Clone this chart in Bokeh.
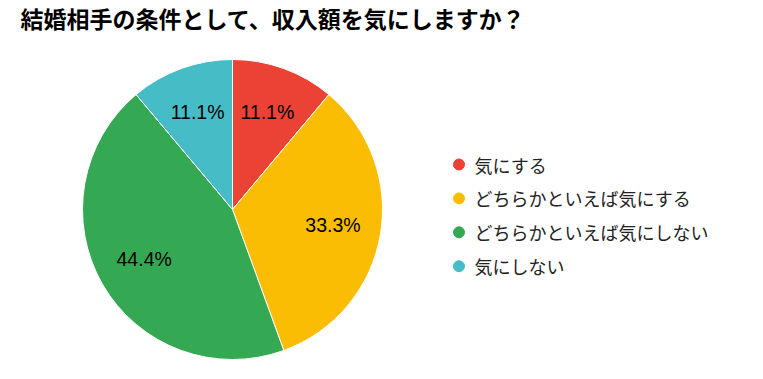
import math
from bokeh.plotting import figure
from bokeh.models import Range1d, ColumnDataSource
from bokeh.core.properties import value
from bokeh.embed import file_html
from bokeh.resources import INLINE

# ---- data ----
title_text = "結婚相手の条件として、収入額を気にしますか？"
categories = ["気にする", "どちらかといえば気にする", "どちらかといえば気にしない", "気にしない"]
shares = [11.1, 33.3, 44.4, 11.1]
colors = ["#EA4335", "#FBBC04", "#34A853", "#46BDC6"]

# ---- layout ----
W, H = 747, 363
CX, CY, R = 232, 209, 150          # canvas pixel coords (y down)
LABEL_R = 102
LEG_X, LEG_Y0, LEG_DY = 458.5, 164, 33.9

def yd(y):
    return H - y

p = figure(width=W, height=H, output_backend="svg", toolbar_location=None,
           x_range=Range1d(0, W), y_range=Range1d(0, H),
           x_axis_type=None, y_axis_type=None, min_border=0)
p.grid.visible = False
p.outline_line_color = None
p.background_fill_color = "white"
p.border_fill_color = "white"

total = sum(shares)
starts, ends, lx, ly, labels = [], [], [], [], []
cum = 0.0
for s in shares:
    a0 = cum / total * 2 * math.pi
    a1 = (cum + s) / total * 2 * math.pi
    starts.append(math.pi / 2 - a1)
    ends.append(math.pi / 2 - a0)
    mid = math.pi / 2 - (a0 + a1) / 2
    lx.append(CX + LABEL_R * math.cos(mid))
    ly.append(yd(CY) + LABEL_R * math.sin(mid) + 2)
    labels.append(f"{s:.1f}%")
    cum += s

src = ColumnDataSource(dict(start=starts, end=ends, color=colors, lx=lx, ly=ly, label=labels))
p.wedge(x=CX, y=yd(CY), radius=R, start_angle="start", end_angle="end",
        fill_color="color", line_color="white", line_width=1, source=src)
p.text(x="lx", y="ly", text="label", source=src, text_align="center", text_baseline="middle",
       text_font=value("Liberation Sans"), text_font_size="19.5px", text_color="#000000")

# legend
leg = ColumnDataSource(dict(
    x=[LEG_X] * len(categories),
    tx=[LEG_X + 15.5] * len(categories),
    y=[yd(LEG_Y0 + i * LEG_DY) for i in range(len(categories))],
    text=categories, color=colors))
p.scatter(x="x", y="y", size=11, marker="circle", fill_color="color", line_color="color", source=leg)
p.text(x="tx", y="y", text="text", source=leg, text_baseline="middle", text_align="left",
       text_font=value("Noto Sans CJK JP"), text_font_size="18px", text_color="#222222")

# title
p.text(x=[20], y=[yd(17)], text=[title_text], text_baseline="middle", text_align="left",
       text_font=value("Noto Sans CJK JP"), text_font_size="23px", text_font_style="bold",
       text_color="#000000")

open("out.html", "w").write(file_html(p, INLINE))
